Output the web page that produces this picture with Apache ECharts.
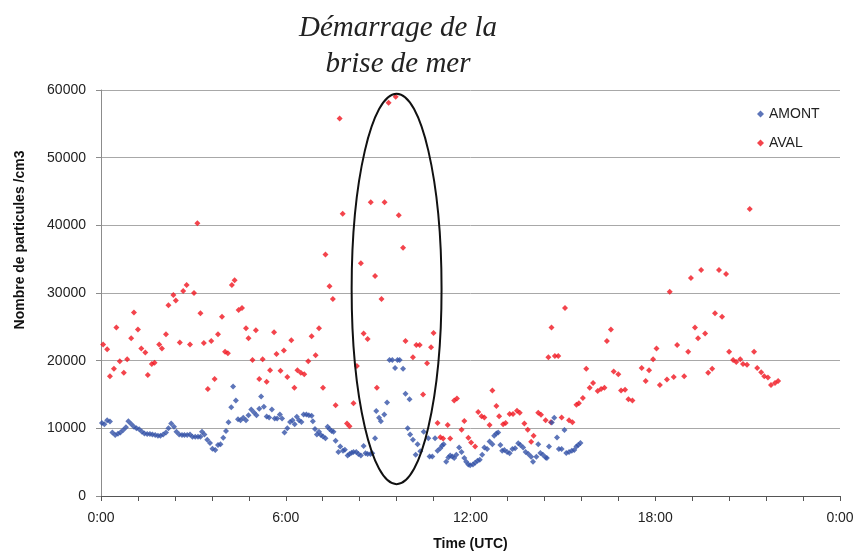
<!DOCTYPE html>
<html><head><meta charset="utf-8">
<script src="https://cdn.jsdelivr.net/npm/echarts/dist/echarts.min.js"></script>
<style>html,body{margin:0;padding:0;background:#fff}#c{width:861px;height:556px}</style>
</head><body><div id="c"></div>
<script>
// AMONT (blue) : time in hours (UTC), particle number /cm3
const amontTimes = [0.03,0.11,0.20,0.29,0.37,0.46,0.55,0.63,0.72,0.81,0.89,0.98,1.07,1.15,1.24,1.33,1.41,1.50,1.59,1.67,1.76,1.85,1.93,2.02,2.11,2.19,2.28,2.37,2.45,2.54,2.63,2.71,2.80,2.89,2.97,3.06,3.15,3.23,3.28,3.36,3.45,3.54,3.62,3.71,3.80,3.88,3.97,4.06,4.14,4.23,4.29,4.38,4.45,4.53,4.62,4.71,4.79,4.88,4.97,5.05,5.14,5.20,5.29,5.38,5.46,5.55,5.64,5.72,5.81,5.88,5.96,6.05,6.14,6.22,6.29,6.36,6.43,6.51,6.58,6.67,6.75,6.84,6.88,6.95,7.01,7.08,7.14,7.21,7.29,7.36,7.42,7.49,7.55,7.62,7.71,7.77,7.86,7.92,8.01,8.07,8.14,8.20,8.29,8.36,8.44,8.53,8.59,8.66,8.75,8.81,8.90,8.94,9.03,9.09,9.20,9.29,9.37,9.46,9.55,9.63,9.70,9.81,9.89,9.96,10.02,10.04,10.13,10.22,10.28,10.37,10.48,10.63,10.67,10.76,10.85,10.93,11.02,11.08,11.13,11.21,11.28,11.34,11.41,11.47,11.54,11.63,11.71,11.80,11.86,11.93,11.99,12.08,12.15,12.23,12.30,12.38,12.45,12.54,12.62,12.71,12.77,12.84,12.90,12.97,13.03,13.10,13.19,13.27,13.36,13.45,13.55,13.62,13.71,13.79,13.88,13.97,14.03,14.14,14.20,14.27,14.35,14.44,14.48,14.55,14.64,14.72,14.81,14.87,14.96,15.05,15.11,15.20,15.29,15.37,15.44,15.50,15.57];
const amontValues = [10800,10600,11200,11000,9400,9000,9200,9400,9750,10150,11050,10650,10250,10000,9850,9500,9250,9150,9150,9100,9000,8900,8900,9100,9400,10000,10700,10250,9500,9100,9000,9000,9000,9100,8750,8750,8750,8750,9500,9100,8300,7850,7000,6800,7550,7650,8600,9600,10900,13100,16200,14100,11350,11200,11550,11200,11950,12800,12350,11950,12900,14700,13200,11750,11600,12800,11450,11450,12050,11450,9400,10000,10950,11200,10600,11700,11200,10950,12050,12050,11950,11850,11050,9900,9100,9500,9000,8800,8550,10250,9900,9600,9500,8150,6500,7300,6700,6850,6000,6200,6400,6500,6500,6200,6000,7400,6300,6200,6200,6300,8550,12550,11550,11050,12050,13800,20100,20100,18900,20100,20100,18800,15100,10000,14300,9100,8300,6100,7650,6600,9500,8550,5850,5850,8550,6700,7050,7450,7650,5050,5700,6000,5850,5600,6100,7150,6500,5600,5050,4650,4550,4650,4900,5200,5350,6100,7150,6950,8050,7650,8900,9250,9400,7550,6700,6800,6500,6300,6950,7050,7800,7550,7150,6500,6200,5800,5050,5800,7650,6350,6100,5700,5600,7300,10850,11550,8650,6950,6950,9750,6350,6500,6700,6800,7300,7550,7850];

// AVAL (red)
const avalTimes = [0.07,0.20,0.29,0.42,0.50,0.61,0.74,0.85,0.98,1.07,1.20,1.31,1.44,1.52,1.65,1.74,1.89,1.98,2.11,2.19,2.35,2.43,2.56,2.67,2.78,2.89,3.02,3.13,3.23,3.34,3.47,3.58,3.69,3.80,3.93,4.03,4.12,4.25,4.34,4.47,4.58,4.71,4.79,4.92,5.03,5.14,5.25,5.38,5.49,5.62,5.70,5.83,5.94,6.05,6.18,6.28,6.38,6.49,6.60,6.73,6.84,6.97,7.08,7.21,7.29,7.42,7.53,7.62,7.75,7.85,7.99,8.07,8.20,8.31,8.44,8.53,8.66,8.76,8.90,8.96,9.11,9.21,9.34,9.57,9.67,9.81,9.89,10.13,10.24,10.35,10.46,10.59,10.72,10.80,10.93,11.02,11.11,11.26,11.34,11.47,11.56,11.71,11.80,11.93,12.02,12.15,12.25,12.36,12.45,12.62,12.71,12.84,12.93,13.06,13.14,13.27,13.38,13.51,13.60,13.75,13.86,13.97,14.05,14.20,14.29,14.44,14.53,14.61,14.63,14.74,14.85,14.96,15.07,15.20,15.31,15.44,15.52,15.65,15.76,15.87,15.98,16.13,16.24,16.35,16.43,16.56,16.65,16.80,16.89,17.02,17.13,17.26,17.56,17.69,17.80,17.93,18.04,18.15,18.38,18.47,18.60,18.71,18.94,19.07,19.16,19.29,19.39,19.49,19.62,19.72,19.85,19.94,20.07,20.17,20.30,20.40,20.53,20.63,20.76,20.85,20.98,21.07,21.21,21.31,21.44,21.54,21.66,21.76,21.89,21.99];
const avalValues = [22400,21700,17700,18800,24900,19900,18200,20200,23300,27100,24600,21800,21200,17900,19500,19700,22400,21800,23900,28200,29700,28900,22700,30300,31200,22400,30000,40300,27000,22600,15800,22900,17300,23900,26500,21300,21100,31200,31900,27500,27800,24800,23300,20100,24500,17300,20200,16900,18600,24200,21000,18500,21500,17600,23000,16000,18600,18200,18000,19900,23600,20800,24800,16000,35700,31000,29100,13400,55800,41700,10700,10300,13700,19200,34400,24000,23200,43400,32500,16000,29100,43400,58100,59000,41500,36700,22900,20500,22300,22300,15000,19600,22000,24100,10800,8700,8500,10500,8500,14100,14400,9800,11100,8600,7900,7300,12400,11800,11600,10500,15600,13300,11800,10600,10800,12100,12100,12600,12300,10700,9800,8000,8900,12300,12000,11200,20500,10900,24900,20700,20700,11600,27800,11200,10900,13500,13700,14500,18800,16000,16700,15500,15800,16000,22900,24600,18400,18000,15600,15700,14300,14100,18900,17000,18600,20200,21800,16400,17200,30200,17600,22300,17700,21300,32200,24900,23300,33400,24000,18200,18800,27000,33400,26500,32800,21300,20100,19800,20200,19500,19400,42400,21300,18900,18300,17700,17500,16400,16700,17000];

const seriesNames = ['AMONT', 'AVAL'];
const xTickLabels = ['0:00', '6:00', '12:00', '18:00', '0:00'];
const yTickValues = [0, 10000, 20000, 30000, 40000, 50000, 60000];
const titleLines = ['Démarrage de la', 'brise de mer'];
const xAxisTitle = 'Time (UTC)';
const yAxisTitle = 'Nombre de particules /cm3';

const zip = (t, v) => t.map((x, i) => [x, v[i]]);

const chart = echarts.init(document.getElementById('c'), null, {renderer: 'canvas'});
const font = '"Liberation Sans", Arial, sans-serif';

chart.setOption({
  animation: false,
  backgroundColor: '#fff',
  grid: {left: 101, right: 21, top: 90, bottom: 55, containLabel: false},
  legend: {
    data: seriesNames,
    orient: 'vertical',
    left: 752, top: 102,
    itemWidth: 7, itemHeight: 7, itemGap: 15,
    icon: 'diamond',
    textStyle: {fontFamily: font, fontSize: 14, color: '#222'}
  },
  xAxis: {
    type: 'value', min: 0, max: 24, interval: 6,
    name: xAxisTitle, nameLocation: 'middle', nameGap: 41,
    nameTextStyle: {fontFamily: font, fontSize: 14, fontWeight: 'bold', color: '#111'},
    axisLine: {show: true, lineStyle: {color: '#555', width: 1}},
    axisTick: {show: true, length: 5, lineStyle: {color: '#555'}},
    minorTick: {show: true, splitNumber: 5, length: 5, lineStyle: {color: '#555'}},
    axisLabel: {fontFamily: font, fontSize: 14, color: '#222', margin: 15,
      formatter: v => xTickLabels[Math.round(v / 6)]},
    splitLine: {show: false}
  },
  yAxis: {
    type: 'value', min: yTickValues[0], max: yTickValues[yTickValues.length - 1], interval: 10000,
    axisLine: {show: true, lineStyle: {color: '#8c8c8c', width: 1}},
    axisTick: {show: true, length: 5, lineStyle: {color: '#8c8c8c'}},
    axisLabel: {fontFamily: font, fontSize: 14, color: '#222', margin: 15,
      formatter: v => String(v)},
    splitLine: {show: true, lineStyle: {color: '#a8a8a8', width: 1}}
  },
  series: [
    {name: seriesNames[0], type: 'scatter', symbol: 'diamond', symbolSize: 6,
      itemStyle: {color: '#3553A8'}, data: zip(amontTimes, amontValues), z: 3},
    {name: seriesNames[1], type: 'scatter', symbol: 'diamond', symbolSize: 6,
      itemStyle: {color: '#F0151F'}, data: zip(avalTimes, avalValues), z: 2}
  ]
});

// annotation ellipse around the sea-breeze onset, anchored in data space
const c0 = chart.convertToPixel({gridIndex: 0}, [9.6, 30600]);
const cx1 = chart.convertToPixel({gridIndex: 0}, [11.06, 30600]);
const cy1 = chart.convertToPixel({gridIndex: 0}, [9.6, 59450]);
chart.setOption({
  graphic: [
    {type: 'ellipse', shape: {cx: c0[0], cy: c0[1], rx: Math.abs(cx1[0] - c0[0]), ry: Math.abs(c0[1] - cy1[1])},
      style: {fill: null, stroke: '#111', lineWidth: 2}, z: 10},
    {type: 'text', x: 398, y: 10,
      style: {text: titleLines.join('\n'), font: 'italic 29px "Liberation Serif", "Times New Roman", serif',
        fill: '#222', textAlign: 'center', textVerticalAlign: 'top', lineHeight: 36}},
    {type: 'text', x: 20, y: 240, rotation: Math.PI / 2,
      style: {text: yAxisTitle, font: 'bold 14px "Liberation Sans", Arial, sans-serif', fill: '#111',
        textAlign: 'center', textVerticalAlign: 'middle'}}
  ]
});
</script>
</body></html>
